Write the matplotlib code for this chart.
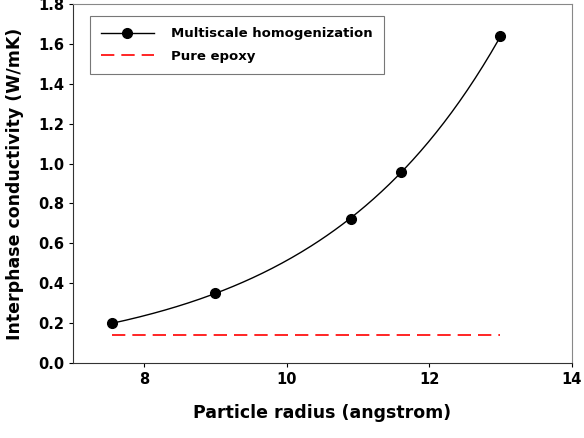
import numpy as np
import matplotlib
matplotlib.use('Agg')
import matplotlib.pyplot as plt

# particle radius (angstrom) vs interphase conductivity (W/mK)
radius = [7.55, 9.0, 10.9, 11.6, 13.0]
conductivity = [0.20, 0.35, 0.72, 0.96, 1.64]
epoxy_level = 0.14

plt.rcParams['font.family'] = 'DejaVu Sans'
plt.rcParams['font.weight'] = 'bold'

fig = plt.figure(figsize=(5.84, 4.38), dpi=100)
ax = fig.add_axes([0.125, 0.171, 0.854, 0.820])

# smooth exponential trend through the points
b, log_a = np.polyfit(radius, np.log(conductivity), 1)
xs = np.linspace(radius[0], radius[-1], 200)
ax.plot(xs, np.exp(log_a) * np.exp(b * xs), color='black', lw=1.0)
ax.plot(radius, conductivity, 'o', color='black', ms=7)
ax.plot([], [], '-o', color='black', lw=1.0, ms=7, label='Multiscale homogenization')

ax.plot([radius[0], radius[-1]], [epoxy_level, epoxy_level], '--',
        color='red', lw=1.2, dashes=(8, 4.2), label='Pure epoxy')

ax.set_xlim(7, 14)
ax.set_ylim(0, 1.8)
ax.set_xticks([8, 10, 12, 14])
ax.set_yticks(np.arange(0, 1.81, 0.2))
ax.set_yticklabels([f'{v:.1f}' for v in np.arange(0, 1.81, 0.2)])
ax.tick_params(direction='out', length=3, labelsize=10.5, width=0.8)
for lab in ax.get_xticklabels() + ax.get_yticklabels():
    lab.set_fontweight('bold')

ax.set_xlabel('Particle radius (angstrom)', fontsize=12.5, fontweight='bold', labelpad=12)
ax.set_ylabel('Interphase conductivity (W/mK)', fontsize=12.5, fontweight='bold', labelpad=10)

for s in ['left', 'bottom']:
    ax.spines[s].set_color('#333333')
for s in ['top', 'right']:
    ax.spines[s].set_color('#888888')

leg = ax.legend(loc='upper left', bbox_to_anchor=(0.02, 0.985), fontsize=9.5,
                frameon=True, fancybox=False, edgecolor='#555555',
                handlelength=4.0, borderpad=0.85, labelspacing=0.75, handletextpad=1.3)
leg.get_frame().set_linewidth(0.8)
for t in leg.get_texts():
    t.set_fontweight('bold')

fig.savefig('out.png', dpi=100)
